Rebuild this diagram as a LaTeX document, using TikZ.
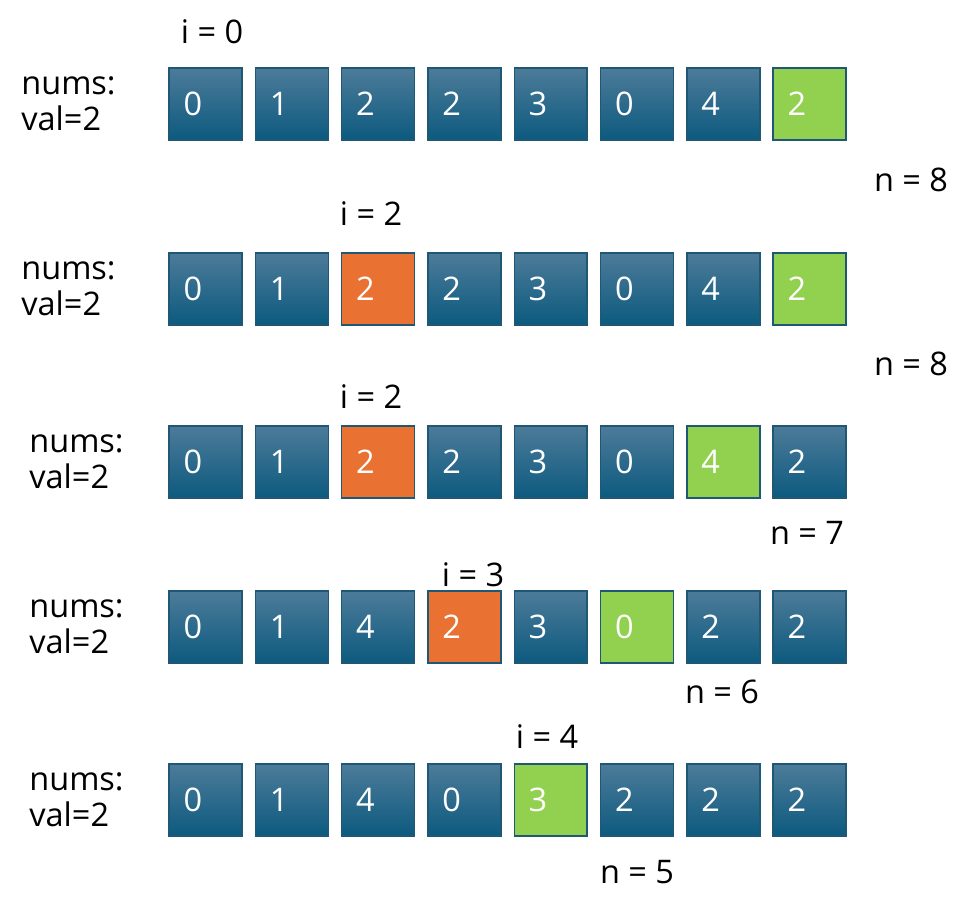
\documentclass[tikz,border=0pt]{standalone}
\usepackage{fontspec}
\setmainfont{Open Sans}
\definecolor{celltop}{HTML}{4D7B99}
\definecolor{cellbot}{HTML}{0C5A7F}
\definecolor{cellline}{HTML}{1E5875}
\definecolor{hotfill}{HTML}{E97132}
\definecolor{tailfill}{HTML}{92D050}
\tikzset{
  box/.style={draw=cellline, line width=0.8pt, text=white, minimum height=1.44cm,
    text width=0.88cm, inner xsep=0.29cm, inner ysep=0pt, align=left,
    font=\fontsize{18.5}{21}\selectfont},
  cell/.style={box, top color=celltop, bottom color=cellbot},
  hot/.style={box, fill=hotfill},
  tail/.style={box, fill=tailfill},
  txt/.style={inner sep=0pt, font=\fontsize{18.5}{20.4}\selectfont},
}

\begin{document}
\begin{tikzpicture}[x=0.02cm,y=-0.02cm]
  \useasboundingbox (0,0) rectangle (971,906);
  % row 1
  \node[txt,anchor=west,align=left] (nums1) at (21,104) {nums:\\val=2};
  \foreach \v/\s [count=\c] in {0/cell,1/cell,2/cell,2/cell,3/cell,0/cell,4/cell,2/tail}
    \node[\s] (r1c\c) at ({205.5+(\c-1)*86.3},104) {\v};
  \node[txt] (i1) at (212,32) {i = 0};
  \node[txt] (n1) at (911,180) {n = 8};
  % row 2
  \node[txt,anchor=west,align=left] (nums2) at (21,289) {nums:\\val=2};
  \foreach \v/\s [count=\c] in {0/cell,1/cell,2/hot,2/cell,3/cell,0/cell,4/cell,2/tail}
    \node[\s] (r2c\c) at ({205.5+(\c-1)*86.3},289) {\v};
  \node[txt] (i2) at (371,214) {i = 2};
  \node[txt] (n2) at (911,364) {n = 8};
  % row 3
  \node[txt,anchor=west,align=left] (nums3) at (29,462) {nums:\\val=2};
  \foreach \v/\s [count=\c] in {0/cell,1/cell,2/hot,2/cell,3/cell,0/cell,4/tail,2/cell}
    \node[\s] (r3c\c) at ({205.5+(\c-1)*86.3},462) {\v};
  \node[txt] (i3) at (371,397) {i = 2};
  \node[txt] (n3) at (807,533) {n = 7};
  % row 4
  \node[txt,anchor=west,align=left] (nums4) at (29,627) {nums:\\val=2};
  \foreach \v/\s [count=\c] in {0/cell,1/cell,4/cell,2/hot,3/cell,0/tail,2/cell,2/cell}
    \node[\s] (r4c\c) at ({205.5+(\c-1)*86.3},627) {\v};
  \node[txt] (i4) at (473,575) {i = 3};
  \node[txt] (n4) at (722,692) {n = 6};
  % row 5
  \node[txt,anchor=west,align=left] (nums5) at (29,800) {nums:\\val=2};
  \foreach \v/\s [count=\c] in {0/cell,1/cell,4/cell,0/cell,3/tail,2/cell,2/cell,2/cell}
    \node[\s] (r5c\c) at ({205.5+(\c-1)*86.3},800) {\v};
  \node[txt] (i5) at (547,737) {i = 4};
  \node[txt] (n5) at (637,872) {n = 5};
\end{tikzpicture}
\end{document}
